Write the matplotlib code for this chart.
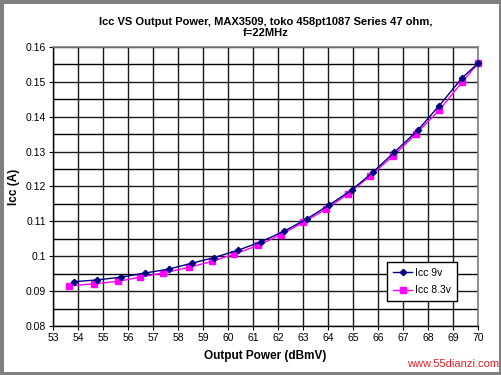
import matplotlib
matplotlib.use("Agg")
import matplotlib.pyplot as plt
from matplotlib.ticker import MultipleLocator

plt.rcParams['font.family'] = ['Liberation Sans', 'DejaVu Sans']

# Icc 9v series (navy diamonds)
power_9v = [53.84, 54.75, 55.72, 56.69, 57.63, 58.55, 59.44, 60.39, 61.31, 62.25,
            63.15, 64.05, 64.95, 65.81, 66.65, 67.59, 68.45, 69.37, 70.0]
icc_9v = [0.0927, 0.0932, 0.0940, 0.0952, 0.0963, 0.0980, 0.0996, 0.1017, 0.1041, 0.1072,
          0.1107, 0.1147, 0.1190, 0.1242, 0.1298, 0.1361, 0.1432, 0.1512, 0.1553]

# Icc 8.3v series (magenta squares)
power_83v = [53.65, 54.63, 55.60, 56.48, 57.41, 58.43, 59.35, 60.25, 61.20, 62.12,
             63.01, 63.92, 64.81, 65.68, 66.61, 67.51, 68.45, 69.37, 70.0]
icc_83v = [0.0915, 0.0921, 0.0928, 0.0940, 0.0952, 0.0968, 0.0985, 0.1006, 0.1031, 0.1062,
           0.1097, 0.1135, 0.1179, 0.1230, 0.1288, 0.1350, 0.1419, 0.1500, 0.1553]

x_ticks = list(range(53, 71))
y_ticks = [0.08, 0.09, 0.1, 0.11, 0.12, 0.13, 0.14, 0.15, 0.16]
y_tick_labels = ["0.08", "0.09", "0.1", "0.11", "0.12", "0.13", "0.14", "0.15", "0.16"]

fig = plt.figure(figsize=(5.02, 3.75), dpi=100)
fig.patch.set_edgecolor('#808080')
fig.patch.set_linewidth(5)
ax = fig.add_axes([0.1056, 0.1307, 0.8466, 0.744])

ax.plot(power_9v, icc_9v, color='#000080', marker='D', markersize=3.2,
        linewidth=1.0, label='Icc 9v', zorder=3, clip_on=False)
ax.plot(power_83v, icc_83v, color='#FF00FF', marker='s', markersize=4.2,
        linewidth=1.0, label='Icc 8.3v', zorder=2, clip_on=False)

ax.set_xlim(53, 70)
ax.set_ylim(0.08, 0.16)
ax.set_xticks(x_ticks)
ax.set_yticks(y_ticks)
ax.set_yticklabels(y_tick_labels)
ax.yaxis.set_minor_locator(MultipleLocator(0.005))

# grid on every integer and every 0.005
ax.grid(True, which='both', color='black', linewidth=1.0, alpha=1.0)
for gl in ax.get_xgridlines() + ax.get_ygridlines():
    gl.set_visible(True)
    gl.set_color('#1a1a1a')
    gl.set_linewidth(1.0)
    gl.set_zorder(1)

ax.tick_params(which='major', labelsize=7.5, length=3, width=0.8, colors='black', pad=2)
ax.tick_params(which='minor', length=0)

for side in ['left', 'bottom']:
    ax.spines[side].set_color('black')
    ax.spines[side].set_linewidth(1.0)
for side in ['right', 'top']:
    ax.spines[side].set_color('#808080')
    ax.spines[side].set_linewidth(1.2)

ax.set_xlabel('Output Power (dBmV)', fontsize=8.5, fontweight='bold', labelpad=5)
ax.set_ylabel('Icc (A)', fontsize=8.5, fontweight='bold')
ax.yaxis.set_label_coords(-0.078, 0.5)

fig.text(0.53, 0.955, 'Icc VS Output Power, MAX3509, toko 458pt1087 Series 47 ohm,\nf=22MHz',
         ha='center', va='top', fontsize=8, fontweight='bold', linespacing=1.15)

leg = ax.legend(loc='lower right', bbox_to_anchor=(0.95, 0.09), fontsize=7.5,
                frameon=True, fancybox=False, edgecolor='black', framealpha=1,
                handlelength=1.8, handletextpad=0.3, borderpad=0.55,
                labelspacing=0.7, borderaxespad=0)
leg.get_frame().set_linewidth(1.0)

fig.text(0.995, 0.015, 'www.55dianzi.com', ha='right', va='bottom', fontsize=8,
         color='#e02020')

fig.savefig('out.png', dpi=100, edgecolor=fig.get_edgecolor())
